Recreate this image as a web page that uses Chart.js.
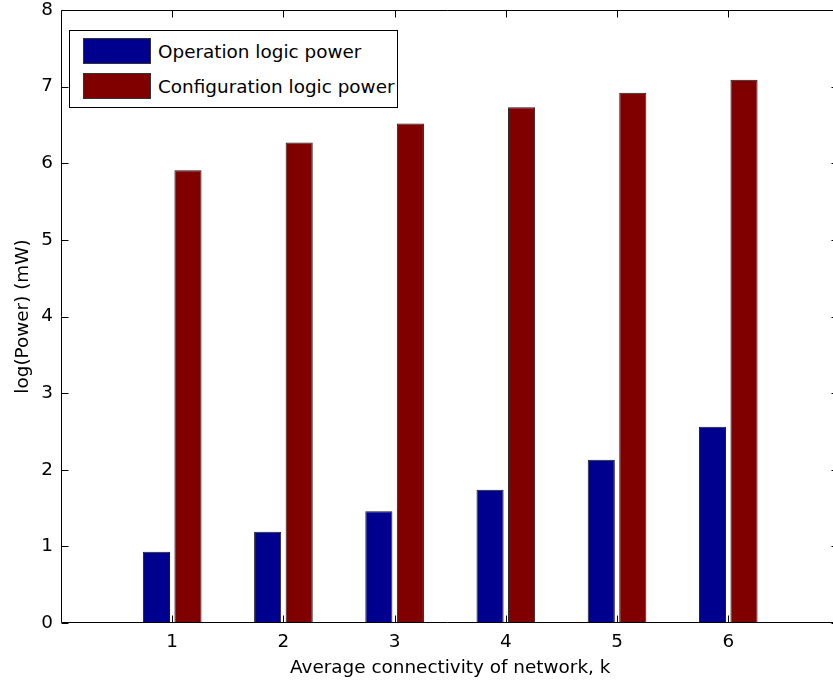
<!DOCTYPE html>
<html>
<head>
<meta charset="utf-8">
<script src="https://cdn.jsdelivr.net/npm/chart.js@4/dist/chart.umd.min.js"></script>
<style>
  html, body { margin: 0; padding: 0; background: #fff; overflow: hidden; }
  #wrap { position: relative; width: 833px; height: 681px; overflow: hidden; }
  #chart { position: absolute; left: 0; top: 0; }
  #legend {
    position: absolute; left: 69px; top: 30px; width: 327px; height: 76px;
    border: 1px solid #000; background: #fff;
    font-family: "DejaVu Sans", sans-serif; font-size: 18.4px; color: #000;
  }
  .row { position: absolute; left: 13px; height: 26px; display: flex; align-items: center; white-space: nowrap; }
  .swatch { width: 66px; height: 24px; border: 1px solid #333; margin-right: 7px; flex: none; }
</style>
</head>
<body>
<div id="wrap">
  <canvas id="chart" width="833" height="681" style="width:833px;height:681px"></canvas>
  <div id="legend"></div>
</div>
<script>
// Average connectivity k and the two power series, log scale (mW)
const kValues = [1, 2, 3, 4, 5, 6];
const operationPower = [0.93, 1.19, 1.46, 1.74, 2.13, 2.56];
const configurationPower = [5.91, 6.27, 6.52, 6.73, 6.92, 7.09];
const seriesNames = ['Operation logic power', 'Configuration logic power'];
const seriesColors = ['#00008F', '#800000'];
const xTitle = 'Average connectivity of network, k';
const yTitle = 'log(Power) (mW)';

const FONT = { family: '"DejaVu Sans", sans-serif', size: 18.4 };
const X_AXIS_END = 7;        // full axis runs 0..7
const X_VISIBLE_END = 6.942; // the canvas shows the axes up to here

// Axes box with inward tick marks; the right-hand axis sits at x = 7,
// just past the canvas edge, so only its tick stubs show.
// The x-axis title is centred under the full 0..7 axis.
const frameTicks = {
  id: 'frameTicks',
  afterDatasetsDraw(chart) {
    const { ctx, chartArea, scales: { x, y } } = chart;
    const L = Math.round(chartArea.left) + 0.5;
    const T = Math.round(chartArea.top) + 0.5;
    const B = Math.round(chartArea.bottom) - 0.5;
    const R = Math.round(x.getPixelForValue(X_AXIS_END)) - 0.5;
    const len = 7;
    ctx.save();
    ctx.strokeStyle = '#000';
    ctx.lineWidth = 1;
    ctx.beginPath();
    kValues.forEach(v => {
      const px = Math.round(x.getPixelForValue(v)) + 0.5;
      ctx.moveTo(px, B); ctx.lineTo(px, B - len);
      ctx.moveTo(px, T); ctx.lineTo(px, T + len);
    });
    y.ticks.forEach(t => {
      const py = Math.round(y.getPixelForValue(t.value)) + 0.5;
      ctx.moveTo(L, py); ctx.lineTo(L + len, py);
      ctx.moveTo(R, py); ctx.lineTo(R - len, py);
    });
    ctx.moveTo(L, T); ctx.lineTo(R, T);
    ctx.moveTo(L, T); ctx.lineTo(L, B);
    ctx.moveTo(L, B); ctx.lineTo(R, B);
    ctx.moveTo(R, T); ctx.lineTo(R, B);
    ctx.stroke();

    ctx.fillStyle = '#000';
    ctx.font = `${FONT.size}px ${FONT.family}`;
    ctx.textAlign = 'center';
    ctx.textBaseline = 'alphabetic';
    ctx.fillText(xTitle, x.getPixelForValue(X_AXIS_END / 2), B + 50);
    ctx.restore();
  }
};

const toPoints = vals => kValues.map((k, i) => ({ x: k, y: vals[i] }));

const chart = new Chart(document.getElementById('chart'), {
  type: 'bar',
  data: {
    datasets: [
      { label: seriesNames[0], data: toPoints(operationPower), backgroundColor: seriesColors[0],
        borderColor: '#1a1a1a', borderWidth: 1, categoryPercentage: 0.567, barPercentage: 0.86 },
      { label: seriesNames[1], data: toPoints(configurationPower), backgroundColor: seriesColors[1],
        borderColor: '#1a1a1a', borderWidth: 1, categoryPercentage: 0.567, barPercentage: 0.86 }
    ]
  },
  options: {
    responsive: false,
    maintainAspectRatio: false,
    animation: false,
    devicePixelRatio: 1,
    layout: { padding: { top: 10, right: 0, left: 0, bottom: 0 } },
    plugins: { legend: { display: false }, tooltip: { enabled: false } },
    scales: {
      x: {
        type: 'linear', min: 0, max: X_VISIBLE_END, offset: false,
        grid: { display: false, drawTicks: false }, border: { display: false },
        ticks: {
          stepSize: 1, includeBounds: false, autoSkip: false, maxRotation: 0, padding: 8,
          color: '#000', font: FONT,
          callback: v => kValues.includes(v) ? String(v) : ''
        },
        title: { display: false },
        afterFit: s => { s.height = 58; s.paddingLeft = 0; s.paddingRight = 0; }
      },
      y: {
        min: 0, max: 8,
        grid: { display: false, drawTicks: false }, border: { display: false },
        ticks: { stepSize: 1, padding: 8, color: '#000', font: FONT },
        title: { display: true, text: yTitle, color: '#000', font: FONT, padding: { top: 12, bottom: 0 } },
        afterFit: s => { s.width = 61; s.paddingTop = 0; s.paddingBottom = 0; }
      }
    }
  },
  plugins: [frameTicks]
});

// Legend built from the chart's datasets
const legend = document.getElementById('legend');
chart.data.datasets.forEach((ds, i) => {
  const row = document.createElement('div');
  row.className = 'row';
  row.style.top = (7 + i * 35) + 'px';
  const sw = document.createElement('span');
  sw.className = 'swatch';
  sw.style.background = ds.backgroundColor;
  const label = document.createElement('span');
  label.textContent = ds.label;
  row.appendChild(sw);
  row.appendChild(label);
  legend.appendChild(row);
});
</script>
</body>
</html>
